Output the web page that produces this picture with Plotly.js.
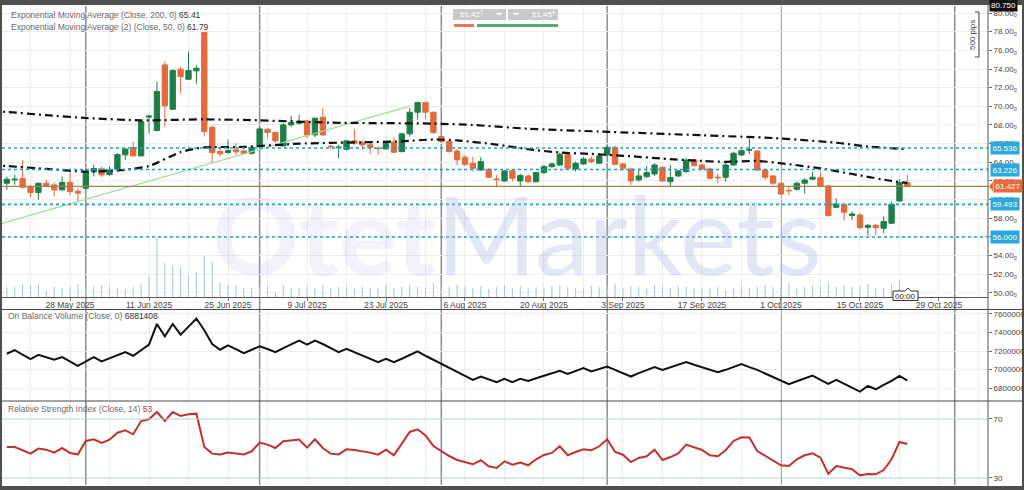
<!DOCTYPE html>
<html><head><meta charset="utf-8">
<script src="https://cdn.plot.ly/plotly-3.0.1.min.js"></script>
<style>html,body{margin:0;padding:0;background:#fff}#chart{width:1024px;height:490px}</style>
</head><body><div id="chart"></div>
<script>
// ---------------- DATA ----------------
const dates = [
"2025-05-16","2025-05-19","2025-05-20","2025-05-21","2025-05-22","2025-05-23","2025-05-26","2025-05-27","2025-05-28","2025-05-29","2025-05-30",
"2025-06-02","2025-06-03","2025-06-04","2025-06-05","2025-06-06","2025-06-09","2025-06-10","2025-06-11","2025-06-12","2025-06-13","2025-06-16","2025-06-17","2025-06-18","2025-06-19","2025-06-20","2025-06-23","2025-06-24","2025-06-25","2025-06-26","2025-06-27","2025-06-30",
"2025-07-01","2025-07-02","2025-07-03","2025-07-04","2025-07-07","2025-07-08","2025-07-09","2025-07-10","2025-07-11","2025-07-14","2025-07-15","2025-07-16","2025-07-17","2025-07-18","2025-07-21","2025-07-22","2025-07-23","2025-07-24","2025-07-25","2025-07-28","2025-07-29","2025-07-30","2025-07-31",
"2025-08-01","2025-08-04","2025-08-05","2025-08-06","2025-08-07","2025-08-08","2025-08-11","2025-08-12","2025-08-13","2025-08-14","2025-08-15","2025-08-18","2025-08-19","2025-08-20","2025-08-21","2025-08-22","2025-08-25","2025-08-26","2025-08-27","2025-08-28","2025-08-29",
"2025-09-01","2025-09-02","2025-09-03","2025-09-04","2025-09-05","2025-09-08","2025-09-09","2025-09-10","2025-09-11","2025-09-12","2025-09-15","2025-09-16","2025-09-17","2025-09-18","2025-09-19","2025-09-22","2025-09-23","2025-09-24","2025-09-25","2025-09-26","2025-09-29","2025-09-30",
"2025-10-01","2025-10-02","2025-10-03","2025-10-06","2025-10-07","2025-10-08","2025-10-09","2025-10-10","2025-10-13","2025-10-14","2025-10-15","2025-10-16","2025-10-17","2025-10-20","2025-10-21","2025-10-22","2025-10-23"
];
const openP = [
61.76,62.12,62.26,61.41,60.77,61.76,61.58,61.05,61.84,60.91,
61.23,62.98,63.30,62.69,63.26,64.80,65.59,64.69,68.85,67.41,
74.44,69.69,73.98,72.90,73.80,77.90,67.76,65.16,65.05,65.34,
65.22,64.98,65.69,67.55,67.19,65.76,68.01,68.19,68.44,66.94,
68.83,65.72,65.58,65.40,66.30,66.12,65.87,65.50,65.44,66.16,
65.15,67.05,69.37,70.40,69.37,66.76,66.23,65.22,64.54,63.90,
63.18,63.25,62.22,62.00,63.11,62.00,62.54,61.93,62.90,63.54,
63.72,64.86,63.29,63.83,64.33,63.90,64.79,65.61,63.83,63.29,
62.11,62.47,62.76,63.47,61.93,62.54,63.00,64.25,63.72,63.29,
62.40,62.40,63.72,64.79,65.30,65.22,63.18,62.54,61.76,60.99,
61.11,61.76,62.20,62.36,61.47,59.18,59.50,58.29,58.36,57.04,
57.25,56.93,57.47,59.86,61.83];
const highP = [
62.48,62.66,64.27,61.59,61.84,62.12,61.84,62.48,62.91,61.23,
63.19,63.73,63.55,63.55,64.98,65.52,66.23,68.55,69.10,72.65,
74.80,73.98,74.26,75.87,74.44,77.95,67.91,65.69,66.41,66.05,
65.40,65.76,67.72,67.65,67.30,68.19,68.97,69.08,68.55,68.83,
69.80,65.87,65.87,66.40,67.55,66.33,66.05,65.76,66.23,66.69,
67.19,69.80,70.51,70.51,69.44,66.94,66.40,65.40,64.75,64.61,
64.54,63.36,62.65,63.18,63.25,62.76,62.65,63.00,63.72,63.97,
65.04,64.97,64.08,64.54,64.61,64.97,65.75,65.75,63.97,63.43,
63.36,63.61,63.90,63.54,63.72,63.18,64.43,64.43,63.90,63.43,
62.83,63.90,65.15,65.40,66.57,65.33,63.25,62.65,61.83,61.33,
61.93,62.29,63.00,63.00,61.58,60.15,59.61,58.72,58.54,57.40,
57.40,58.19,59.79,62.18,62.65];
const lowP = [
61.05,61.59,61.23,60.27,59.98,61.41,60.34,60.98,60.52,59.80,
61.12,62.48,62.41,62.55,63.02,64.27,64.62,64.62,67.10,67.30,
67.80,69.62,71.40,72.83,72.41,66.77,63.91,64.62,64.91,64.80,
64.80,64.80,65.58,66.58,66.05,65.69,67.83,68.01,66.58,66.69,
66.83,65.40,64.44,65.26,65.87,65.33,64.90,64.80,65.33,64.98,
65.05,66.76,68.55,68.62,67.05,66.12,65.05,63.69,63.60,63.00,
63.08,62.29,61.33,61.93,61.93,61.47,61.76,61.83,62.76,63.36,
63.61,63.18,63.00,63.72,63.90,63.83,64.68,63.68,63.11,61.58,
61.93,62.29,62.54,61.93,61.47,62.40,62.90,63.54,63.11,62.18,
61.76,61.93,63.61,64.68,64.90,63.11,62.11,61.58,60.50,60.50,
60.97,60.68,62.11,61.33,58.19,59.08,57.76,57.83,56.83,56.22,
56.22,56.40,57.40,59.79,61.33];
const closeP = [
62.19,62.19,61.33,60.77,61.76,61.51,61.05,61.84,60.87,60.70,
63.02,63.34,62.66,63.19,64.84,65.41,64.69,68.37,68.95,71.59,
70.05,73.83,73.19,73.83,74.08,67.30,65.05,64.91,65.27,65.12,
64.98,65.58,67.58,67.19,66.30,68.01,68.26,68.37,66.94,68.72,
66.94,65.68,65.62,66.30,66.05,65.87,65.58,65.47,66.05,65.08,
67.05,69.37,70.40,69.37,67.19,66.23,65.15,64.26,63.79,63.36,
64.08,62.40,62.15,63.08,62.29,62.58,61.93,62.90,63.54,63.83,
64.86,63.36,63.90,64.36,64.08,64.68,65.61,63.79,63.36,62.00,
62.54,62.90,63.72,62.00,62.36,63.08,64.25,63.65,63.29,62.29,
62.35,63.72,64.97,65.25,65.35,63.18,62.40,61.76,60.61,60.95,
61.76,62.11,62.40,61.47,58.29,59.54,58.65,58.47,57.00,57.25,
57.00,57.65,59.50,61.83,61.43];
const volume = [
10000,10000,13000,12000,13000,6000,10000,9000,10000,13000,
13000,11000,12000,10000,9000,8000,10000,13000,20000,59000,
34000,32000,30000,22000,25000,41000,35000,14000,12000,12000,
9000,9000,10000,10000,5000,12000,9000,9000,10000,9000,
12000,9000,10000,10000,9000,10000,9000,9000,12000,9000,
10000,12000,10000,9000,14000,12000,10000,12000,10000,9000,
11000,8000,10000,12000,9000,11000,8000,10000,9000,11000,
12000,10000,9000,8000,11000,10000,12000,13000,9000,11000,
10000,8000,12000,10000,9000,11000,10000,9000,8000,9000,
10000,7000,8000,11000,9000,10000,12000,10000,11000,14000,
9000,10000,12000,11000,14000,10000,12000,10000,11000,13000,
9000,9000,13000,17000,8000];
const obv = [
7170800,7210400,7160000,7113100,7160000,7131100,7105900,7134700,7087900,7041000,
7087900,7134700,7087900,7120300,7152800,7188800,7148900,7206800,7268100,7491500,
7358200,7491500,7376200,7462700,7549200,7423000,7275300,7214000,7260900,7221200,
7178000,7214000,7250000,7221200,7188800,7232000,7268100,7311300,7268100,7311300,
7275300,7232000,7188800,7224800,7188800,7152800,7116700,7080700,7116700,7080700,
7116700,7156400,7196000,7149100,7105900,7059000,7015800,6972600,6932900,6889700,
6925700,6896900,6864400,6900500,6864400,6900500,6878900,6907700,6932900,6961800,
6987000,6954600,6987000,7015800,6979800,7005000,7033800,6997800,6961800,6925700,
6961800,6994200,7026600,6997800,7026600,7051800,7080700,7051800,7026600,6997800,
6972600,6997800,7030200,7059000,7026600,6997800,6958100,6918500,6882500,6842800,
6875300,6907700,6936500,6889700,6846400,6889700,6846400,6803200,6763600,6824800,
6788800,6835600,6878900,6932900,6881408];
const rsi = [
51.0,51.0,48.8,46.5,49.9,49.2,47.2,50.3,46.9,46.0,
55.1,56.2,53.7,56.0,60.7,62.3,59.6,68.6,69.8,74.7,
68.6,74.7,72.0,73.2,73.6,51.0,46.5,46.0,47.2,46.5,
46.0,48.1,54.0,52.6,50.3,54.9,55.5,56.0,50.6,56.2,
50.3,46.5,46.0,49.4,49.0,48.3,47.2,45.8,49.2,45.4,
53.3,61.2,63.0,58.9,51.7,48.3,44.9,42.2,40.6,39.3,
42.0,37.9,36.8,41.3,39.0,40.4,38.6,42.7,45.6,47.0,
51.5,45.4,47.6,49.4,48.8,51.5,56.2,47.6,45.8,40.8,
43.6,44.7,49.2,42.2,44.2,46.7,52.6,50.8,49.0,45.4,
44.7,48.8,55.1,57.6,57.4,48.3,44.9,42.0,38.6,38.1,
42.7,45.4,46.7,43.8,32.9,38.1,36.8,35.9,31.8,32.7,
32.5,35.4,42.7,54.4,53.0];
const ema200Dates = ["2025-05-14","2025-05-16","2025-05-23","2025-05-30","2025-06-10","2025-06-20","2025-07-01","2025-07-14","2025-07-31","2025-08-07","2025-08-18","2025-08-29","2025-09-17","2025-09-30","2025-10-10","2025-10-16","2025-10-23"];
const ema200 = [69.48,69.40,69.05,68.75,68.50,68.60,68.50,68.25,68.15,68.00,67.60,67.30,66.90,66.60,66.10,65.70,65.41];
const ema50Dates = ["2025-05-14","2025-05-16","2025-05-23","2025-05-30","2025-06-06","2025-06-11","2025-06-17","2025-06-20","2025-06-27","2025-07-08","2025-07-18","2025-07-25","2025-07-31","2025-08-05","2025-08-12","2025-08-18","2025-08-22","2025-08-28","2025-09-04","2025-09-10","2025-09-17","2025-09-22","2025-09-26","2025-10-02","2025-10-08","2025-10-15","2025-10-21","2025-10-23"];
const ema50 = [63.70,63.60,63.30,63.00,63.20,63.60,65.10,65.60,65.65,66.00,66.15,66.25,66.45,66.35,65.90,65.40,65.05,64.90,64.65,64.40,64.15,64.05,64.15,63.80,63.35,62.60,62.00,61.79];
const trendDates = ["2025-05-14","2025-07-28"];
const trendPrices = [57.11,70.02];
const levelPrices = [65.536,63.226,59.493,56.000];
const lastPrice = 61.427;
const bidAsk = ["61.42","7","61.45","4"];
const monthSeparators = ["2025-05-30","2025-07-01","2025-08-01","2025-09-01","2025-10-01","2025-10-31"];
const tickDates = ["2025-05-28","2025-06-11","2025-06-25","2025-07-09","2025-07-23","2025-08-06","2025-08-20","2025-09-03","2025-09-17","2025-10-01","2025-10-15","2025-10-29"];
const tickLabels = ["28 May 2025","11 Jun 2025","25 Jun 2025","9 Jul 2025","23 Jul 2025","6 Aug 2025","20 Aug 2025","3 Sep 2025","17 Sep 2025","1 Oct 2025","15 Oct 2025","29 Oct 2025"];
const priceTicks = [50,52,54,56,58,60,62,64,66,68,70,72,74,76,78,80];
const obvTicks = [6800000,7000000,7200000,7400000,7600000];
const rsiTicks = [30,70];

// ---------------- GEOMETRY HELPERS ----------------
const W=1024,H=490,ML=2,MR=36,MT=6,MB=5;
const PW=W-ML-MR, PH=H-MT-MB;
const px = v => (v-ML)/PW;
const py = v => (H-MB-v)/PH;
const FONT = "Liberation Sans, Arial, sans-serif";
const GRID = "#ececec";

const traces = [
  {type:"bar", x:dates, y:volume, yaxis:"y4", marker:{color:"#a9c8d1"}, width:0.13*86400000, hoverinfo:"skip"},
  {type:"candlestick", x:dates, open:openP, high:highP, low:lowP, close:closeP, yaxis:"y",
   increasing:{line:{color:"#1d7f47",width:1}, fillcolor:"#1d7f47"},
   decreasing:{line:{color:"#e56a3b",width:1}, fillcolor:"#e56a3b"},
   whiskerwidth:0, hoverinfo:"skip"},
  {type:"scatter", mode:"lines", x:trendDates, y:trendPrices, yaxis:"y", line:{color:"#9ddc92",width:1.2}, hoverinfo:"skip"},
  {type:"scatter", mode:"lines", x:ema200Dates, y:ema200, yaxis:"y", line:{color:"#111",width:2.2,dash:"8px,4px,2px,4px",shape:"spline",smoothing:0.6}, hoverinfo:"skip"},
  {type:"scatter", mode:"lines", x:ema50Dates, y:ema50, yaxis:"y", line:{color:"#111",width:2.2,dash:"8px,4px,2px,4px",shape:"spline",smoothing:0.6}, hoverinfo:"skip"},
  {type:"scatter", mode:"lines", x:dates, y:obv, yaxis:"y2", line:{color:"#111",width:2}, hoverinfo:"skip"},
  {type:"scatter", mode:"lines", x:dates, y:rsi, yaxis:"y3", line:{color:"#c3312d",width:2}, hoverinfo:"skip"}
];

const shapes = [];
shapes.push({type:"rect", xref:"paper", yref:"paper", x0:px(2), x1:px(1022), y0:py(486), y1:py(5), fillcolor:"#fff", line:{width:0}, layer:"below"});
monthSeparators.forEach(d => shapes.push({type:"line", xref:"x", yref:"paper", x0:d, x1:d, y0:py(485), y1:py(6), line:{color:"#8c8c8c",width:1.5}, layer:"below"}));
levelPrices.forEach(v => shapes.push({type:"line", xref:"paper", yref:"y", x0:0, x1:1, y0:v, y1:v, line:{color:"#1f9fc6",width:1.6,dash:"dot"}}));
shapes.push({type:"line", xref:"paper", yref:"y", x0:0, x1:1, y0:lastPrice, y1:lastPrice, line:{color:"#9a8650",width:1.2}});
rsiTicks.forEach(v => shapes.push({type:"line", xref:"paper", yref:"y3", x0:0, x1:1, y0:v, y1:v, line:{color:"#a6d6d6",width:1}}));
[309.5, 401].forEach(v => shapes.push({type:"line", xref:"paper", yref:"paper", x0:px(2), x1:px(1022), y0:py(v), y1:py(v), line:{color:"#4a4a4a",width:1.2}}));
shapes.push({type:"line", xref:"paper", yref:"paper", x0:1, x1:1, y0:py(486), y1:py(5), line:{color:"#555",width:1}});
shapes.push({type:"rect", xref:"paper", yref:"paper", x0:px(453), x1:px(506), y0:py(20), y1:py(9), fillcolor:"#c9c9c9", line:{width:0}});
shapes.push({type:"rect", xref:"paper", yref:"paper", x0:px(508), x1:px(558), y0:py(20), y1:py(9), fillcolor:"#c9c9c9", line:{width:0}});
shapes.push({type:"rect", xref:"paper", yref:"paper", x0:px(454), x1:px(474), y0:py(27), y1:py(24), fillcolor:"#e27a58", line:{width:0}});
shapes.push({type:"rect", xref:"paper", yref:"paper", x0:px(477), x1:px(558), y0:py(27), y1:py(24), fillcolor:"#4dae78", line:{width:0}});
shapes.push({type:"path", xref:"paper", yref:"paper",
  path:`M ${px(975)} ${py(12)} L ${px(979)} ${py(12)} L ${px(979)} ${py(57)} L ${px(975)} ${py(57)}`, line:{color:"#444",width:1}});
shapes.push({type:"path", xref:"paper", yref:"paper",
  path:`M ${px(893)} ${py(291)} L ${px(905)} ${py(291)} L ${px(908)} ${py(288)} L ${px(911)} ${py(291)} L ${px(918)} ${py(291)} L ${px(918)} ${py(300.5)} L ${px(893)} ${py(300.5)} Z`,
  fillcolor:"#fff", line:{color:"#333",width:1}});
shapes.push({type:"path", xref:"paper", yref:"paper",
  path:`M ${px(989)} ${py(186.5)} L ${px(993)} ${py(181.5)} L ${px(993)} ${py(191.5)} Z`, fillcolor:"#e8693a", line:{width:0}});

const ann = [];
const txt = (x,y,text,opt={}) => ann.push(Object.assign({xref:"paper", yref:"paper", x:px(x), y:py(y), text:text, showarrow:false, xanchor:"left", yanchor:"middle", font:{family:FONT,size:8.5,color:"#6a6a6a"}}, opt));
txt(9,15,`Exponential Moving Average (Close, 200, 0) <span style="color:#333">${ema200[ema200.length-1].toFixed(2)}</span>`);
txt(9,27,`Exponential Moving Average (2) (Close, 50, 0) <span style="color:#333">${ema50[ema50.length-1].toFixed(2)}</span>`);
txt(6,316,`On Balance Volume (Close, 0) <span style="color:#333">${obv[obv.length-1]}</span>`);
txt(6,409,`Relative Strength Index (Close, 14) <span style="color:#c3312d">${Math.round(rsi[rsi.length-1])}</span>`);
txt(458,14.5,`${bidAsk[0]}<sup>${bidAsk[1]}</sup>`,{font:{family:FONT,size:8,color:"#fff"}});
txt(494,14.5,"➡",{font:{family:"DejaVu Sans",size:7,color:"#fff"}});
txt(511,14.5,"➡",{font:{family:"DejaVu Sans",size:7,color:"#fff"}});
txt(530,14.5,`${bidAsk[2]}<sup>${bidAsk[3]}</sup>`,{font:{family:FONT,size:8,color:"#fff"}});
ann.push({xref:"paper", yref:"paper", x:px(973), y:py(35), text:"500 pips", textangle:-90, showarrow:false, xanchor:"center", yanchor:"middle", font:{family:FONT,size:8,color:"#444"}});
ann.push({xref:"paper", yref:"paper", x:px(905.5), y:py(296), text:"00:00", showarrow:false, xanchor:"center", yanchor:"middle", font:{family:FONT,size:8,color:"#222"}});
ann.push({xref:"paper", yref:"paper", x:1, xshift:1, y:py(5), text:"80.750", showarrow:false, xanchor:"left", yanchor:"middle", bgcolor:"#111", borderpad:1, font:{family:FONT,size:8,color:"#fff"}});
levelPrices.forEach(v => ann.push({xref:"paper", yref:"y", x:1, xshift:2, y:v, text:v.toFixed(3), showarrow:false, xanchor:"left", yanchor:"middle", bgcolor:"#2ba8df", borderpad:1.5, font:{family:FONT,size:8,color:"#fff"}}));
ann.push({xref:"paper", yref:"y", x:1, xshift:5, y:lastPrice, text:lastPrice.toFixed(3), showarrow:false, xanchor:"left", yanchor:"middle", bgcolor:"#e8693a", borderpad:1.5, font:{family:FONT,size:8,color:"#fff"}});
ann.push({xref:"paper", yref:"paper", x:px(517), y:py(233), text:'<span style="color:rgba(150,160,215,0.38)"><b>Otet</b></span>Markets', showarrow:false, xanchor:"center", yanchor:"middle", font:{family:"Lato, Noto Sans, sans-serif",size:108,color:"rgba(175,182,225,0.35)"}});

const layout = {
  width:W, height:H, margin:{l:ML,r:MR,t:MT,b:MB,pad:0},
  paper_bgcolor:"#4f4f4f", plot_bgcolor:"#ffffff", showlegend:false,
  font:{family:FONT,size:8,color:"#444"}, hovermode:false, dragmode:false,
  boxgap:0.18, boxgroupgap:0.18,
  xaxis:{type:"date", range:["2025-05-15 09:20","2025-11-06 05:00"], rangebreaks:[{bounds:["sat","mon"]}],
    tickvals:tickDates, ticktext:tickLabels, ticks:"outside", ticklen:3, tickcolor:"#777", ticklabelstandoff:-3,
    tickfont:{family:FONT,size:8.5,color:"#444"}, showgrid:true, gridcolor:GRID, gridwidth:1,
    minor:{dtick:7*86400000, tick0:"2025-05-21", showgrid:true, gridcolor:GRID, gridwidth:1, ticks:""},
    showline:true, linecolor:"#555", linewidth:1, zeroline:false, anchor:"y", fixedrange:true, rangeslider:{visible:false}},
  yaxis:{domain:[py(297),1], side:"right", range:[49.57,80.75], tickvals:priceTicks,
    ticktext:priceTicks.map(v=>v.toFixed(2)+"<sub>0</sub>"), ticks:"outside", ticklen:3, tickcolor:"#666",
    tickfont:{family:FONT,size:8,color:"#444"}, showgrid:true, gridcolor:GRID, zeroline:false, anchor:"x", fixedrange:true},
  yaxis2:{domain:[py(401),py(309.5)], side:"right", range:[6662700,7646500], tickvals:obvTicks,
    ticktext:obvTicks.map(v=>String(v)), ticks:"outside", ticklen:3, tickcolor:"#666",
    tickfont:{family:FONT,size:8,color:"#444"}, showgrid:true, gridcolor:GRID, zeroline:false, anchor:"x", fixedrange:true},
  yaxis3:{domain:[0,py(402)], side:"right", range:[25.25,81.5], tickvals:rsiTicks, ticks:"outside", ticklen:3, tickcolor:"#666",
    tickfont:{family:FONT,size:8,color:"#444"}, showgrid:false, zeroline:false, anchor:"x", fixedrange:true},
  yaxis4:{overlaying:"y", range:[0,291000], visible:false, fixedrange:true},
  shapes:shapes, annotations:ann
};
Plotly.newPlot("chart", traces, layout, {staticPlot:true, displayModeBar:false});
</script></body></html>
